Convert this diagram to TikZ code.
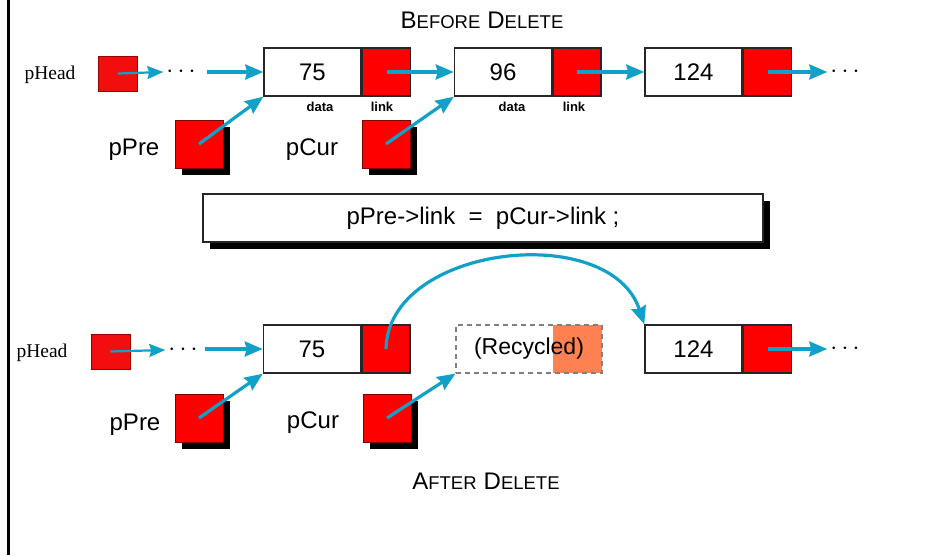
\documentclass[tikz,border=0pt]{standalone}
\usepackage{fontspec}
\setmainfont{Liberation Sans}
\newfontfamily\headserif{Liberation Serif}
\usetikzlibrary{arrows.meta,shadows}
\definecolor{arrowblue}{RGB}{16,160,200}
\definecolor{boxred}{RGB}{255,0,0}
\definecolor{headred}{RGB}{242,14,14}
\definecolor{recorange}{RGB}{255,128,80}
\newcommand{\fsz}[1]{\fontsize{#1}{#1}\selectfont}
\newcommand{\scaps}[2]{{\fsz{24}#1}{\fsz{18.5}#2}}
\tikzset{
  databox/.style={draw=black!85, line width=1.5pt, fill=white, minimum width=97pt, minimum height=48pt, inner sep=0pt, font=\fsz{24}},
  linkbox/.style={draw=black!85, line width=1.5pt, fill=boxred, minimum width=48pt, minimum height=48pt, inner sep=0pt, anchor=west},
  headbox/.style={draw=red!60!black, line width=0.6pt, fill=headred, minimum width=39pt, minimum height=35pt, inner sep=0pt},
  ptrbox/.style={draw=red!50!black, line width=0.8pt, fill=boxred, minimum width=48pt, minimum height=48pt, inner sep=0pt,
    general shadow={fill=black, shadow xshift=7pt, shadow yshift=-7pt}},
  ptrlabel/.style={font=\fsz{24}, inner sep=0pt},
  headlabel/.style={font=\headserif\fsz{19.5}, inner sep=0pt},
  fieldlabel/.style={font=\bfseries\fsz{13}, inner sep=0pt},
  dots/.style={font=\fsz{23}, inner sep=0pt},
  ptr/.style={draw=arrowblue, line width=3.2pt, -{Stealth[length=18pt, width=15pt, inset=2pt]}},
  thinptr/.style={draw=arrowblue, line width=2.2pt, -{Stealth[length=16pt, width=13pt, inset=2pt]}},
  title/.style={inner sep=0pt},
}
\begin{document}
\begin{tikzpicture}[x=1pt, y=-1pt]
\useasboundingbox (0,0) rectangle (951,555);
\fill[white] (0,0) rectangle (951,555);
\draw[line width=2.5pt] (8.5,0) -- (8.5,555);

% ---------- BEFORE ----------
\node[title] (t1) at (482,20) {\scaps{B}{EFORE}\hspace{7pt}\scaps{D}{ELETE}};

\node[headlabel] (ph1) at (50,75) {pHead};
\node[headbox] (hb1) at (118,73.5) {};
\node[dots] (dl1) at (181,72) {$\cdots$};
\coordinate (s1) at (207,72);

\node[databox] (d75) at (312.5,72) {75};
\node[linkbox] (l75) at (d75.east) {};
\node[databox] (d96) at (503,72) {96};
\node[linkbox] (l96) at (d96.east) {};
\node[databox] (d124) at (693.5,72) {124};
\node[linkbox] (l124) at (d124.east) {};
\node[dots] (dr1) at (845,72) {$\cdots$};

\node[fieldlabel] (fd1) at (320,107) {data};
\node[fieldlabel] (fl1) at (382,107) {link};
\node[fieldlabel] (fd2) at (512,107) {data};
\node[fieldlabel] (fl2) at (574,107) {link};

\node[ptrlabel] (pp1) at (134,150) {pPre};
\node[ptrbox] (pre1) at (199,144) {};
\node[ptrlabel] (pc1) at (312,150) {pCur};
\node[ptrbox] (cur1) at (386,144) {};

\draw[thinptr] (hb1.center) -- ([xshift=-3pt]dl1.west);
\draw[ptr] (s1) -- (d75.west);
\draw[ptr] (l75.center) -- (d96.west);
\draw[ptr] (l96.center) -- (d124.west);
\draw[ptr] (l124.center) -- ([xshift=-3pt]dr1.west);
\draw[ptr] (pre1.center) -- (d75.south west);
\draw[ptr] (cur1.center) -- (d96.south west);

% ---------- statement ----------
\node[draw=black!85, line width=1.5pt, fill=white, minimum width=560pt, minimum height=48pt, inner sep=0pt,
  general shadow={fill=black, shadow xshift=7pt, shadow yshift=-7pt}, font=\fsz{24}]
  (code) at (483,218) {pPre->link\ \ =\ \ pCur->link ;};

% ---------- AFTER ----------
\node[headlabel] (ph2) at (42,353) {pHead};
\node[headbox] (hb2) at (110.5,351.5) {};
\node[dots] (dl2) at (183,350) {$\cdots$};
\coordinate (s2) at (205,349);

\node[databox] (e75) at (312,349) {75};
\node[linkbox] (m75) at (e75.east) {};
\fill[recorange] (553,325) rectangle (602,373);
\node[draw=gray, dashed, dash pattern=on 5pt off 4pt, line width=1.2pt, minimum width=146pt, minimum height=48pt, inner sep=0pt, font=\fsz{23}]
  (rec) at (529,349) {(Recycled)};
\node[databox] (e124) at (693.5,349) {124};
\node[linkbox] (m124) at (e124.east) {};
\node[dots] (dr2) at (845,349) {$\cdots$};

\node[ptrlabel] (pp2) at (135,425) {pPre};
\node[ptrbox] (pre2) at (199,418) {};
\node[ptrlabel] (pc2) at (313,423) {pCur};
\node[ptrbox] (cur2) at (387,418) {};

\draw[thinptr] (hb2.center) -- ([xshift=-3pt]dl2.west);
\draw[ptr] (s2) -- (e75.west);
\draw[ptr] (m124.center) -- ([xshift=-3pt]dr2.west);
\draw[ptr] (pre2.center) -- (e75.south west);
\draw[ptr] (cur2.center) -- (rec.south west);
\draw[ptr] (m75.center) .. controls (388,245) and (610,220) .. (e124.north west);

\node[title] (t2) at (486,481) {\scaps{A}{FTER}\hspace{7pt}\scaps{D}{ELETE}};
\end{tikzpicture}
\end{document}
